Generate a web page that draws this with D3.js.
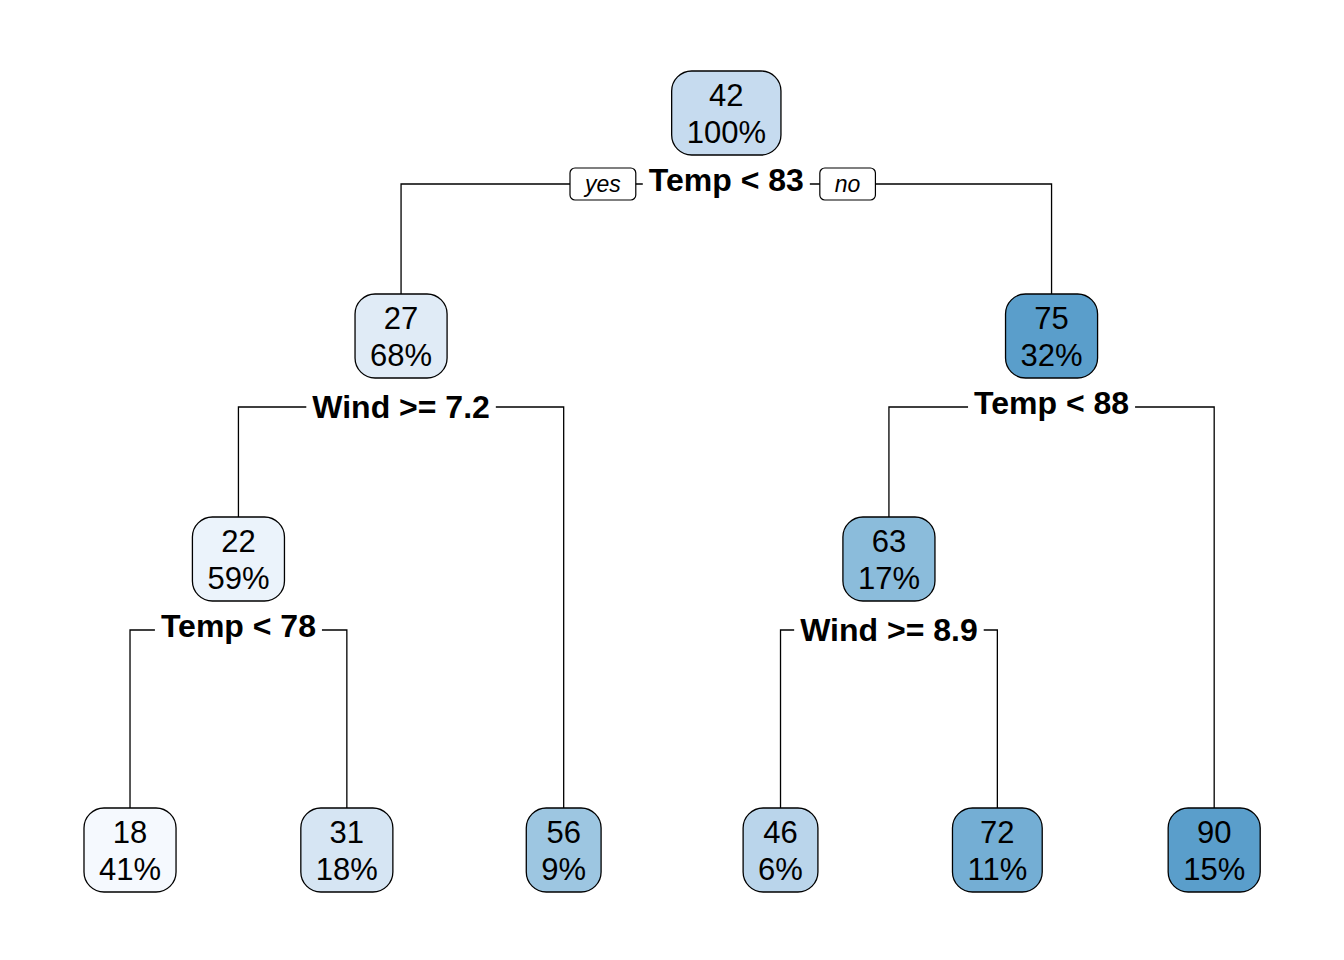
<!DOCTYPE html>
<html lang="en">
<head>
	<meta charset="UTF-8">
	<title>regression tree</title>
	<style>
		* { margin: 0; padding: 0; }
		body { background: #fff; }
		svg { display: block; font-family: "Liberation Sans", Arial, Helvetica, sans-serif; }
	</style>
</head>
<body>
	<script src="https://cdn.jsdelivr.net/npm/d3@7"></script>
	<script>
		// tree nodes, in rpart order (left child before right child)
		var nodeNames = ["n1", "n2", "n4", "n8", "n9", "n5", "n3", "n6", "n12", "n13", "n7"];
		var parentNames = ["", "n1", "n2", "n4", "n4", "n2", "n1", "n3", "n6", "n6", "n3"];
		var fitted = [42, 27, 22, 18, 31, 56, 75, 63, 46, 72, 90];
		var percents = [100, 68, 59, 41, 18, 9, 32, 17, 6, 11, 15];
		var splits = ["Temp < 83", "Wind >= 7.2", "Temp < 78", "", "", "", "Temp < 88", "Wind >= 8.9", "", "", ""];
		var branchLabels = ["yes", "no"];

		var W = 1344, H = 960;
		var boxH = 84, boxR = 20, boxPad = 15;

		var rows = nodeNames.map(function (n, i) {
			return { name: n, parent: parentNames[i], value: fitted[i], pct: percents[i], split: splits[i] };
		});

		var root = d3.stratify()
			.id(function (d) { return d.name; })
			.parentId(function (d) { return d.parent || null; })(rows);

		// leaves spread evenly, parents in the middle of their children
		d3.cluster().size([1301, 1]).separation(function () { return 1; })(root);

		var xOff = 21.6;
		// vertical position by node height (leaves all at the bottom)
		var yScale = d3.scaleLinear().domain([0, 1, 3]).range([850, 559, 113]);
		var color = d3.scaleLinear()
			.domain([18, 31, 42, 56, 72, 75])
			.range(["#f5f9fe", "#d6e5f3", "#c6dbef", "#9dc6e1", "#74aed4", "#5a9ecb"])
			.clamp(true);

		function nx(d) { return d.x + xOff; }
		function ny(d) { return yScale(d.height); }
		function lineY(d) { return ny(d) + 71; }

		var svg = d3.select('body').append('svg').attr('width', W).attr('height', H);

		var internals = root.descendants().filter(function (d) { return d.children; });

		// branch lines
		svg.append('g')
			.selectAll('path')
			.data(internals)
			.enter()
			.append('path')
			.attr('d', function (d) {
				var l = d.children[0], r = d.children[1], y = lineY(d);
				return 'M' + nx(l) + ',' + (ny(l) - boxH / 2) + 'V' + y + 'H' + nx(r) + 'V' + (ny(r) - boxH / 2);
			})
			.attr('fill', 'none')
			.attr('stroke', '#000')
			.attr('stroke-width', 1.3);

		// split labels on a white patch
		var lab = svg.append('g')
			.selectAll('g')
			.data(internals)
			.enter()
			.append('g');

		lab.append('rect').attr('fill', '#fff');
		lab.append('text')
			.attr('x', nx)
			.attr('y', function (d) { return lineY(d) + (/[pgqy]/.test(d.data.split) ? 7 : 11); })
			.attr('text-anchor', 'middle')
			.attr('font-weight', 'bold')
			.attr('font-size', 32)
			.text(function (d) { return d.data.split; });

		lab.each(function (d) {
			var g = d3.select(this);
			var bb = g.select('text').node().getBBox();
			d.labBox = bb;
			g.select('rect')
				.attr('x', bb.x - 6).attr('width', bb.width + 12)
				.attr('y', lineY(d) - 14).attr('height', 28);
		});

		// yes / no tags beside the root split
		var tagY = lineY(root);
		var tags = svg.append('g')
			.selectAll('g')
			.data(branchLabels)
			.enter()
			.append('g');

		tags.append('text')
			.attr('font-style', 'italic')
			.attr('font-size', 23)
			.attr('text-anchor', 'middle')
			.attr('y', tagY + 8)
			.text(function (d) { return d; });

		tags.each(function (d, i) {
			var g = d3.select(this);
			var t = g.select('text');
			var w = t.node().getComputedTextLength() + 30;
			var bb = root.labBox;
			var cx = i === 0 ? bb.x - 13 - w / 2 : bb.x + bb.width + 16 + w / 2;
			t.attr('x', cx);
			g.insert('rect', 'text')
				.attr('x', cx - w / 2).attr('width', w)
				.attr('y', tagY - 16).attr('height', 32)
				.attr('rx', 5)
				.attr('fill', '#fff')
				.attr('stroke', '#000')
				.attr('stroke-width', 1.2);
		});

		// node boxes
		var node = svg.append('g')
			.selectAll('g')
			.data(root.descendants())
			.enter()
			.append('g')
			.attr('transform', function (d) { return 'translate(' + nx(d) + ',' + ny(d) + ')'; });

		node.append('text')
			.attr('class', 'v')
			.attr('text-anchor', 'middle')
			.attr('font-size', 31)
			.attr('y', -7)
			.text(function (d) { return d.data.value; });

		node.append('text')
			.attr('class', 'p')
			.attr('text-anchor', 'middle')
			.attr('font-size', 31)
			.attr('y', 30)
			.text(function (d) { return d.data.pct + '%'; });

		node.each(function (d) {
			var g = d3.select(this);
			var w = Math.max(g.select('text.v').node().getComputedTextLength(),
				g.select('text.p').node().getComputedTextLength()) + 2 * boxPad;
			g.insert('rect', 'text')
				.attr('x', -w / 2).attr('width', w)
				.attr('y', -boxH / 2).attr('height', boxH)
				.attr('rx', boxR).attr('ry', boxR)
				.attr('fill', color(d.data.value))
				.attr('stroke', '#000')
				.attr('stroke-width', 1.3);
		});
	</script>
</body>
</html>
